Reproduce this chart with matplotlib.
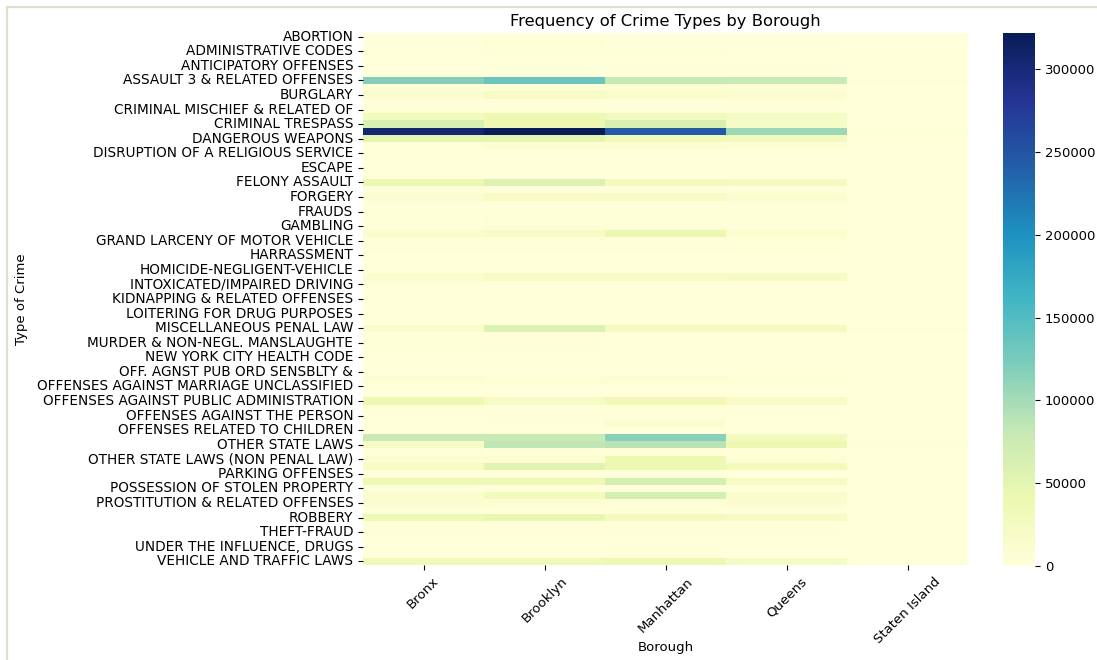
import matplotlib
matplotlib.use("Agg")
import matplotlib.pyplot as plt
import pandas as pd
import seaborn as sns
from matplotlib.patches import Rectangle

crime_types = [
    "ABORTION", "ADMINISTRATIVE CODE", "ADMINISTRATIVE CODES",
    "ALCOHOLIC BEVERAGE CONTROL LAW", "ANTICIPATORY OFFENSES", "ARSON",
    "ASSAULT 3 & RELATED OFFENSES", "BURGLAR'S TOOLS", "BURGLARY",
    "CHILD ABANDONMENT/NON SUPPORT", "CRIMINAL MISCHIEF & RELATED OF",
    "CRIMINAL MISCHIEF & RELATED OFFENSES", "CRIMINAL TRESPASS",
    "DANGEROUS DRUGS", "DANGEROUS WEAPONS", "DISORDERLY CONDUCT",
    "DISRUPTION OF A RELIGIOUS SERVICE", "ENDAN WELFARE INCOMP", "ESCAPE",
    "ESCAPE 3", "FELONY ASSAULT", "FELONY SEX CRIMES", "FORGERY",
    "FORTUNE TELLING", "FRAUDS", "FRAUDULENT ACCOSTING", "GAMBLING",
    "GRAND LARCENY", "GRAND LARCENY OF MOTOR VEHICLE", "HARASSMENT",
    "HARRASSMENT", "HARRASSMENT 2", "HOMICIDE-NEGLIGENT-VEHICLE",
    "INTOXICATED & IMPAIRED DRIVING", "INTOXICATED/IMPAIRED DRIVING",
    "JOSTLING", "KIDNAPPING & RELATED OFFENSES", "LOITERING",
    "LOITERING FOR DRUG PURPOSES", "LOITERING/GAMBLING (CARDS, DIC",
    "MISCELLANEOUS PENAL LAW", "MOVING INFRACTIONS",
    "MURDER & NON-NEGL. MANSLAUGHTE", "NEW YORK CITY ADMIN CODE",
    "NEW YORK CITY HEALTH CODE", "NYS LAWS-UNCLASSIFIED FELONY",
    "OFF. AGNST PUB ORD SENSBLTY &", "OFFENSES AGAINST FAMILY",
    "OFFENSES AGAINST MARRIAGE UNCLASSIFIED", "OFFENSES AGAINST PUBLIC ADMINI",
    "OFFENSES AGAINST PUBLIC ADMINISTRATION", "OFFENSES AGAINST PUBLIC SAFETY",
    "OFFENSES AGAINST THE PERSON", "OFFENSES INVOLVING FRAUD",
    "OFFENSES RELATED TO CHILDREN", "OTHER OFFENSES RELATED TO THEF",
    "OTHER STATE LAWS", "OTHER STATE LAWS (NON PENAL LA",
    "OTHER STATE LAWS (NON PENAL LAW)", "OTHER TRAFFIC INFRACTION",
    "PARKING OFFENSES", "PETIT LARCENY", "POSSESSION OF STOLEN PROPERTY",
    "POSSESSION OF STOLEN PROPERTY 5", "PROSTITUTION & RELATED OFFENSES",
    "RAPE", "ROBBERY", "SEX CRIMES", "THEFT-FRAUD", "THEFT OF SERVICES",
    "UNDER THE INFLUENCE, DRUGS", "UNAUTHORIZED USE OF A VEHICLE",
    "VEHICLE AND TRAFFIC LAWS",
]

boroughs = ["Bronx", "Brooklyn", "Manhattan", "Queens", "Staten Island"]

bronx = [
    0, 1500, 2000, 1000, 500, 300, 118000, 5000, 12000, 2000,
    3000, 30000, 65000, 305000, 50000, 3000, 0, 0, 0, 500,
    42000, 2000, 10000, 1500, 3000, 1500, 1500, 14000, 2000, 2000,
    800, 0, 0, 12000, 2000, 0, 0, 300, 500, 500,
    14000, 2000, 1500, 3000, 0, 0, 500, 8000, 0, 500,
    40000, 3000, 2000, 1000, 1000, 78000, 18000, 4000, 8000, 18000,
    800, 36000, 2000, 12000, 10000, 2000, 36000, 3000, 2000, 1000,
    1000, 0, 33000,
]
brooklyn = [
    0, 5000, 3000, 1500, 800, 500, 135000, 6000, 18000, 2000,
    3000, 40000, 38000, 322000, 48000, 8000, 0, 0, 0, 500,
    58000, 2500, 18000, 1500, 3500, 4000, 4000, 20000, 3000, 2000,
    800, 0, 0, 18000, 2000, 0, 0, 300, 500, 500,
    58000, 2000, 1500, 1500, 0, 0, 500, 7000, 0, 500,
    22000, 3000, 2000, 1500, 1000, 78000, 85000, 3000, 8000, 52000,
    800, 36000, 2000, 30000, 8000, 2000, 45000, 3000, 2000, 1000,
    1000, 0, 33000,
]
manhattan = [
    0, 2000, 3000, 1500, 800, 300, 80000, 6000, 15000, 2000,
    3000, 32000, 62000, 245000, 32000, 8000, 0, 0, 0, 500,
    28000, 2000, 20000, 1500, 4000, 4000, 4000, 42000, 2000, 2000,
    800, 0, 0, 18000, 2000, 0, 0, 300, 500, 500,
    26000, 2000, 1000, 1500, 0, 0, 500, 8000, 0, 500,
    35000, 3000, 2000, 10000, 1000, 116000, 90000, 3000, 40000, 40000,
    800, 66000, 2000, 66000, 5000, 2000, 24000, 3000, 2000, 1000,
    1000, 0, 38000,
]
queens = [
    0, 1500, 1500, 1000, 500, 300, 78000, 5000, 10000, 1500,
    2500, 22000, 18000, 105000, 28000, 6000, 0, 0, 0, 500,
    26000, 2000, 12000, 1500, 3000, 2000, 2000, 12000, 2000, 3000,
    800, 0, 0, 22000, 2000, 0, 0, 300, 500, 500,
    24000, 2000, 1000, 1500, 0, 0, 500, 5000, 0, 500,
    20000, 3000, 2000, 1000, 1000, 28000, 38000, 3000, 4000, 30000,
    800, 22000, 2000, 15000, 10000, 2000, 20000, 3000, 2000, 1000,
    1000, 0, 22000,
]
staten_island = [
    0, 200, 300, 200, 100, 100, 2500, 500, 1000, 300,
    500, 1500, 1000, 4000, 1200, 500, 0, 0, 0, 100,
    1200, 200, 600, 100, 300, 200, 200, 800, 200, 300,
    100, 0, 0, 1500, 300, 0, 0, 100, 100, 100,
    1500, 200, 100, 200, 0, 0, 100, 500, 0, 100,
    1500, 300, 200, 200, 100, 2500, 2000, 300, 400, 1500,
    100, 1500, 200, 800, 300, 200, 1200, 300, 200, 100,
    100, 0, 1500,
]

counts = pd.DataFrame(
    {"Bronx": bronx, "Brooklyn": brooklyn, "Manhattan": manhattan,
     "Queens": queens, "Staten Island": staten_island},
    index=crime_types,
)[boroughs]

W, H = 1097, 660
fig = plt.figure(figsize=(W / 100, H / 100), dpi=100)

# heatmap and colorbar axes placed in pixel terms
ax = fig.add_axes([363 / W, 1 - 565 / H, 605 / W, 532 / H])
cax = fig.add_axes([1003 / W, 1 - 566 / H, 32 / W, 533 / H])

sns.heatmap(counts, cmap="YlGnBu", ax=ax, cbar_ax=cax, yticklabels=2)

ax.set_title("Frequency of Crime Types by Borough", fontsize=11.8, pad=5)
ax.set_xlabel("Borough", fontsize=9.5)
ax.set_ylabel("Type of Crime", fontsize=9.5)
ax.xaxis.set_label_coords(0.5, -0.143)
ax.yaxis.set_label_coords(-0.553, 0.5)
ax.tick_params(axis="y", labelsize=9.8)
ax.tick_params(axis="x", labelsize=9.5)
plt.setp(ax.get_xticklabels(), rotation=45)
cax.tick_params(labelsize=9.5)

# notebook-style frame along the top and left edges
fig.add_artist(Rectangle((7 / W, -0.1), 2, 1.1 - 7 / H,
                         transform=fig.transFigure,
                         fill=False, ec="#e2ddcc", lw=1.6))

fig.savefig("out.png", dpi=100)
